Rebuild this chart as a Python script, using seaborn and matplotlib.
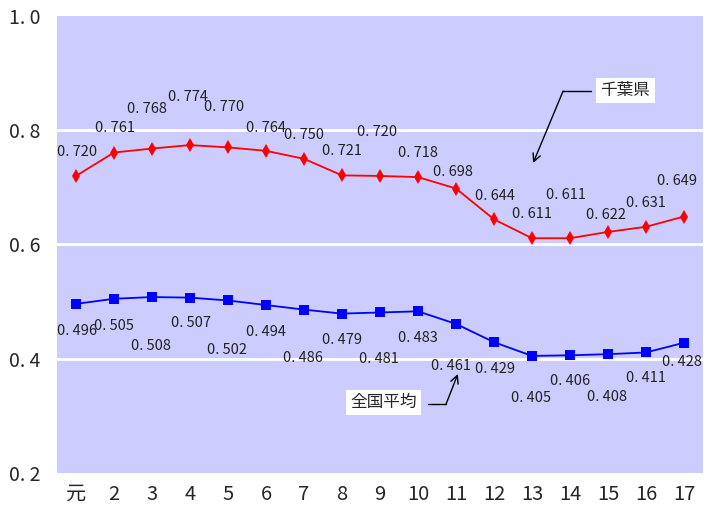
import matplotlib
matplotlib.use("Agg")
import matplotlib.pyplot as plt
from matplotlib.ticker import FuncFormatter
import seaborn as sns
import pandas as pd

# 年度（平成）
years = ["元", "2", "3", "4", "5", "6", "7", "8", "9", "10",
         "11", "12", "13", "14", "15", "16", "17"]
chiba = [0.720, 0.761, 0.768, 0.774, 0.770, 0.764, 0.750, 0.721, 0.720,
         0.718, 0.698, 0.644, 0.611, 0.611, 0.622, 0.631, 0.649]
national = [0.496, 0.505, 0.508, 0.507, 0.502, 0.494, 0.486, 0.479, 0.481,
            0.483, 0.461, 0.429, 0.405, 0.406, 0.408, 0.411, 0.428]
y_ticks = [0.2, 0.4, 0.6, 0.8, 1.0]

# label offsets in pixels (dx, dy) relative to each marker
chiba_off = [(1, 24), (1, 25), (-5, 40), (-2, 48), (-4, 40), (0, 23), (0, 24),
             (0, 24), (-3, 44), (0, 24), (-3, 17), (1, 23), (0, 24), (-4, 43),
             (-2, 17), (0, 24), (-7, 36)]
national_off = [(1, -27), (0, -27), (-1, -49), (1, -25), (-1, -50), (0, -27),
                (-1, -48), (0, -26), (-1, -47), (0, -27), (-5, -42), (1, -27),
                (-1, -42), (0, -26), (-1, -43), (0, -26), (-2, -19)]

sns.set_style("white", {"axes.facecolor": "#CCCCFF"})
plt.rcParams["font.family"] = ["Noto Sans CJK JP", "DejaVu Sans"]

fig = plt.figure(figsize=(7.07, 5.13), dpi=100)
ax = fig.add_axes([0.0806, 0.078, 0.9137, 0.8908])

idx = list(range(len(years)))
df = pd.DataFrame({"idx": idx + idx,
                   "value": chiba + national,
                   "series": ["千葉県"] * len(idx) + ["全国平均"] * len(idx)})

sns.lineplot(data=df, x="idx", y="value", hue="series", style="series",
             palette={"千葉県": "#FF0000", "全国平均": "#0000FF"},
             markers={"千葉県": "d", "全国平均": "s"},
             dashes=False, markersize=7, markeredgewidth=0,
             linewidth=1.3, legend=False, ax=ax, zorder=3)

for i, v in enumerate(chiba):
    ax.annotate(f"{v:.3f}".replace(".", ". "), (i, v), xytext=chiba_off[i],
                textcoords="offset pixels", ha="center", va="center",
                fontsize=10.5, color="#222222")
for i, v in enumerate(national):
    ax.annotate(f"{v:.3f}".replace(".", ". "), (i, v), xytext=national_off[i],
                textcoords="offset pixels", ha="center", va="center",
                fontsize=10.5, color="#222222")

ax.set_xlim(-0.5, len(years) - 0.5)
ax.set_ylim(0.2, 1.0)
ax.set_xticks(idx)
ax.set_xticklabels(years, fontsize=14.5)
ax.set_yticks(y_ticks)
ax.yaxis.set_major_formatter(FuncFormatter(lambda v, p: f"{v:.1f}".replace(".", ". ")))
ax.tick_params(axis="y", labelsize=14, length=0, pad=12)
ax.tick_params(axis="x", length=0, pad=8)
ax.set_xlabel("")
ax.set_ylabel("")
for s in ax.spines.values():
    s.set_visible(False)
for t in y_ticks[1:-1]:
    ax.axhline(t, color="white", linewidth=2, zorder=1)

# callouts
ax.text(14.46, 0.870, "千葉県", ha="center", va="center", fontsize=12,
        bbox=dict(facecolor="white", edgecolor="none", pad=3), zorder=4)
ax.plot([13.55, 12.82], [0.8687, 0.8687], color="black", linewidth=1, zorder=4)
ax.annotate("", xy=(12.03, 0.7427), xytext=(12.82, 0.8687),
            arrowprops=dict(arrowstyle="->", color="black", lw=1,
                            shrinkA=0, shrinkB=0, mutation_scale=14), zorder=4)

ax.text(8.09, 0.3234, "全国平均", ha="center", va="center", fontsize=12,
        bbox=dict(facecolor="white", edgecolor="none", pad=3), zorder=4)
ax.plot([9.26, 9.74], [0.3208, 0.3208], color="black", linewidth=1, zorder=4)
ax.annotate("", xy=(10.05, 0.3733), xytext=(9.74, 0.3208),
            arrowprops=dict(arrowstyle="->", color="black", lw=1,
                            shrinkA=0, shrinkB=0, mutation_scale=14), zorder=4)

fig.savefig("out.png", dpi=100)
